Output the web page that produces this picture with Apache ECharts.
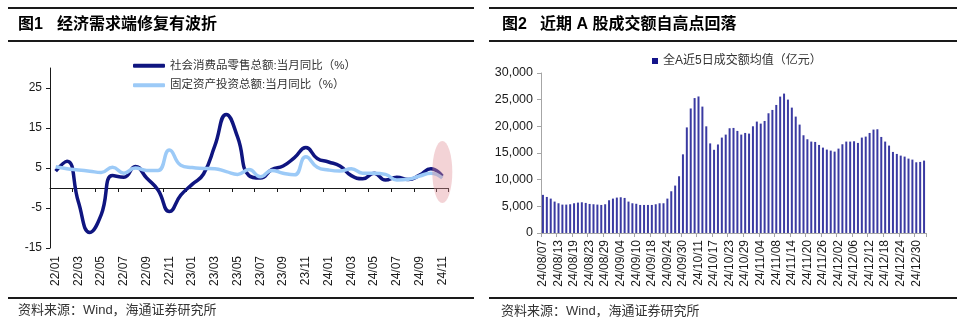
<!DOCTYPE html>
<html><head><meta charset="utf-8">
<script src="https://cdn.jsdelivr.net/npm/echarts@6.0.0/dist/echarts.min.js"></script>
<style>html,body{margin:0;padding:0;background:#fff}#c{width:960px;height:324px}</style>
</head><body><div id="c"></div>
<script>
// ---------- Left chart data ----------
const months = ['22/01','22/02','22/03','22/04','22/05','22/06','22/07','22/08','22/09','22/10','22/11','22/12',
  '23/01','23/02','23/03','23/04','23/05','23/06','23/07','23/08','23/09','23/10','23/11','23/12',
  '24/01','24/02','24/03','24/04','24/05','24/06','24/07','24/08','24/09','24/10','24/11'];
const retailName = '社会消费品零售总额:当月同比（%）';
const faiName = '固定资产投资总额:当月同比（%）';
const retailYoY = [4.2, 6.7, -3.5, -11.1, -6.7, 3.1, 2.7, 5.4, 2.5, -0.5, -5.9, -1.8,
  0.9, 3.5, 10.6, 18.4, 12.7, 3.1, 2.5, 4.6, 5.5, 7.6, 10.1, 7.4,
  6.5, 5.5, 3.1, 2.3, 3.7, 2.0, 2.7, 2.1, 3.2, 4.8, 3.0];
const faiYoY = [5.3, 4.8, 4.5, 4.2, 3.9, 5.2, 3.7, 5.0, 4.4, 4.4, 9.5, 5.7,
  5.1, 4.9, 4.8, 4.1, 3.4, 4.6, 2.8, 4.4, 3.7, 3.3, 7.8, 5.2,
  4.5, 4.25, 4.8, 3.7, 3.7, 3.4, 2.0, 2.2, 3.0, 3.7, 2.5];
const leftYTicks = [-15, -5, 5, 15, 25];
const highlightPoint = ['24/11', 4.0];

// ---------- Right chart data ----------
const turnoverName = '全A近5日成交额均值（亿元）';
const dates = ['24/08/07','24/08/08','24/08/09','24/08/12','24/08/13','24/08/14','24/08/15','24/08/16','24/08/19','24/08/20',
  '24/08/21','24/08/22','24/08/23','24/08/26','24/08/27','24/08/28','24/08/29','24/08/30','24/09/02','24/09/03',
  '24/09/04','24/09/05','24/09/06','24/09/09','24/09/10','24/09/11','24/09/12','24/09/13','24/09/18','24/09/19',
  '24/09/20','24/09/23','24/09/24','24/09/25','24/09/26','24/09/27','24/09/30','24/10/08','24/10/09','24/10/10',
  '24/10/11','24/10/14','24/10/15','24/10/16','24/10/17','24/10/18','24/10/21','24/10/22','24/10/23','24/10/24',
  '24/10/25','24/10/28','24/10/29','24/10/30','24/10/31','24/11/01','24/11/04','24/11/05','24/11/06','24/11/07',
  '24/11/08','24/11/11','24/11/12','24/11/13','24/11/14','24/11/15','24/11/18','24/11/19','24/11/20','24/11/21',
  '24/11/22','24/11/25','24/11/26','24/11/27','24/11/28','24/11/29','24/12/02','24/12/03','24/12/04','24/12/05',
  '24/12/06','24/12/09','24/12/10','24/12/11','24/12/12','24/12/13','24/12/16','24/12/17','24/12/18','24/12/19',
  '24/12/20','24/12/23','24/12/24','24/12/25','24/12/26','24/12/27','24/12/30','24/12/31','25/01/02'];
const turnover = [7150, 6760, 6450, 5890, 5575, 5325, 5325, 5390, 5575, 5700,
  5760, 5640, 5450, 5390, 5325, 5260, 5390, 6140, 6450, 6640,
  6700, 6575, 5890, 5575, 5480, 5260, 5260, 5260, 5260, 5390,
  5575, 5575, 6450, 7825, 8890, 10640, 14750, 19800, 23350, 25300,
  25600, 23700, 20000, 16800, 15600, 16600, 17890, 18450, 19640, 19700,
  19140, 18450, 18760, 18640, 20010, 20890, 20510, 21010, 22450, 23075,
  24010, 25575, 26140, 25010, 23510, 21825, 20325, 18325, 17575, 17140,
  17075, 16510, 16010, 15640, 15450, 15260, 15825, 16640, 17140, 17140,
  17200, 16890, 17890, 18075, 18760, 19390, 19450, 18010, 17140, 16390,
  15200, 14825, 14510, 14325, 13950, 13760, 13260, 13325, 13575];

const FONT = "'Liberation Sans','Noto Sans CJK SC',sans-serif";
const chart = echarts.init(document.getElementById('c'), null, {renderer: 'canvas'});

const option = {
  animation: false,
  backgroundColor: '#fff',
  textStyle: {fontFamily: FONT},
  grid: [
    {left: 50, top: 68, width: 398, height: 180},
    {left: 541, top: 73, width: 385, height: 160}
  ],
  legend: [
    {data: [retailName, faiName], orient: 'vertical', left: 133, top: 60, padding: 0, icon: 'roundRect',
     itemWidth: 32, itemHeight: 4, itemGap: 8,
     textStyle: {fontSize: 11.5, color: '#333'}},
    {data: [{name: turnoverName, itemStyle: {color: '#14148a'}}], left: 652, top: 55, padding: 0, icon: 'rect',
     itemWidth: 6, itemHeight: 6, itemGap: 4, textStyle: {fontSize: 12, color: '#333'}}
  ],
  xAxis: [
    {type: 'category', gridIndex: 0, position: 'bottom', data: months, boundaryGap: true,
     axisLine: {show: false, onZero: false}, axisTick: {show: false},
     axisLabel: {interval: 1, rotate: 90, fontSize: 12, color: '#1a1a1a', margin: 8}},
    {type: 'category', gridIndex: 0, position: 'bottom', data: months, boundaryGap: true,
     axisLine: {show: true, onZero: true, lineStyle: {color: '#1a1a1a', width: 1}},
     axisTick: {show: true, interval: 1, length: 4, lineStyle: {color: '#1a1a1a'}},
     axisLabel: {show: false}},
    {type: 'category', gridIndex: 1, position: 'bottom', data: dates, boundaryGap: true,
     axisLine: {lineStyle: {color: '#a6a6a6'}},
     axisTick: {show: true, interval: 3, length: 4, lineStyle: {color: '#a6a6a6'}},
     axisLabel: {interval: 3, rotate: 90, fontSize: 12, color: '#1a1a1a', margin: 7}}
  ],
  yAxis: [
    {type: 'value', gridIndex: 0, min: -15, max: 30,
     axisLine: {show: true, lineStyle: {color: '#1a1a1a'}},
     axisTick: {show: true, length: 4, customValues: leftYTicks},
     axisLabel: {customValues: leftYTicks, fontSize: 12, color: '#1a1a1a', margin: 8},
     splitLine: {show: false}},
    {type: 'value', gridIndex: 1, min: 0, max: 30000, interval: 5000,
     axisLine: {show: true, lineStyle: {color: '#a6a6a6'}},
     axisTick: {show: true, length: 4},
     axisLabel: {fontSize: 12.5, color: '#1a1a1a', margin: 8},
     splitLine: {show: false}}
  ],
  series: [
    {name: retailName, type: 'line', xAxisIndex: 0, yAxisIndex: 0, data: retailYoY, smooth: true,
     symbol: 'none', showSymbol: false,
     lineStyle: {color: '#0f1580', width: 3.5}, itemStyle: {color: '#0f1580'}},
    {name: faiName, type: 'line', xAxisIndex: 0, yAxisIndex: 0, data: faiYoY, smooth: true,
     symbol: 'none', showSymbol: false,
     lineStyle: {color: '#9ccaf7', width: 3.5}, itemStyle: {color: '#9ccaf7'}},
    {name: 'highlight', type: 'scatter', xAxisIndex: 0, yAxisIndex: 0, data: [highlightPoint], symbol: 'circle',
     symbolSize: [20, 62], itemStyle: {color: 'rgba(226,146,152,0.5)'}, z: 5, silent: true},
    {name: turnoverName, type: 'bar', xAxisIndex: 2, yAxisIndex: 1, data: turnover, barWidth: 2,
     itemStyle: {color: '#3a3aa2'}}
  ],
  graphic: [
    {type: 'line', shape: {x1: 8, y1: 8, x2: 474, y2: 8}, style: {stroke: '#1a1a1a', lineWidth: 2}},
    {type: 'line', shape: {x1: 8, y1: 41, x2: 474, y2: 41}, style: {stroke: '#1a1a1a', lineWidth: 2}},
    {type: 'line', shape: {x1: 8, y1: 298, x2: 474, y2: 298}, style: {stroke: '#1a1a1a', lineWidth: 2}},
    {type: 'line', shape: {x1: 489, y1: 8, x2: 957, y2: 8}, style: {stroke: '#1a1a1a', lineWidth: 2}},
    {type: 'line', shape: {x1: 489, y1: 41, x2: 957, y2: 41}, style: {stroke: '#1a1a1a', lineWidth: 2}},
    {type: 'line', shape: {x1: 489, y1: 298, x2: 957, y2: 298}, style: {stroke: '#1a1a1a', lineWidth: 2}},
    {type: 'text', x: 18, y: 25, style: {text: '图1', font: 'bold 16px ' + FONT, fill: '#000', verticalAlign: 'middle'}},
    {type: 'text', x: 57, y: 25, style: {text: '经济需求端修复有波折', font: 'bold 16px ' + FONT, fill: '#000', verticalAlign: 'middle'}},
    {type: 'text', x: 502, y: 25, style: {text: '图2', font: 'bold 16px ' + FONT, fill: '#000', verticalAlign: 'middle'}},
    {type: 'text', x: 540, y: 25, style: {text: '近期 A 股成交额自高点回落', font: 'bold 16px ' + FONT, fill: '#000', verticalAlign: 'middle'}},
    {type: 'text', x: 18, y: 310, style: {text: '资料来源：Wind，海通证券研究所', font: '13px ' + FONT, fill: '#333', verticalAlign: 'middle'}},
    {type: 'text', x: 501, y: 311, style: {text: '资料来源：Wind，海通证券研究所', font: '13px ' + FONT, fill: '#333', verticalAlign: 'middle'}}
  ]
};
chart.setOption(option);
</script>
</body></html>
